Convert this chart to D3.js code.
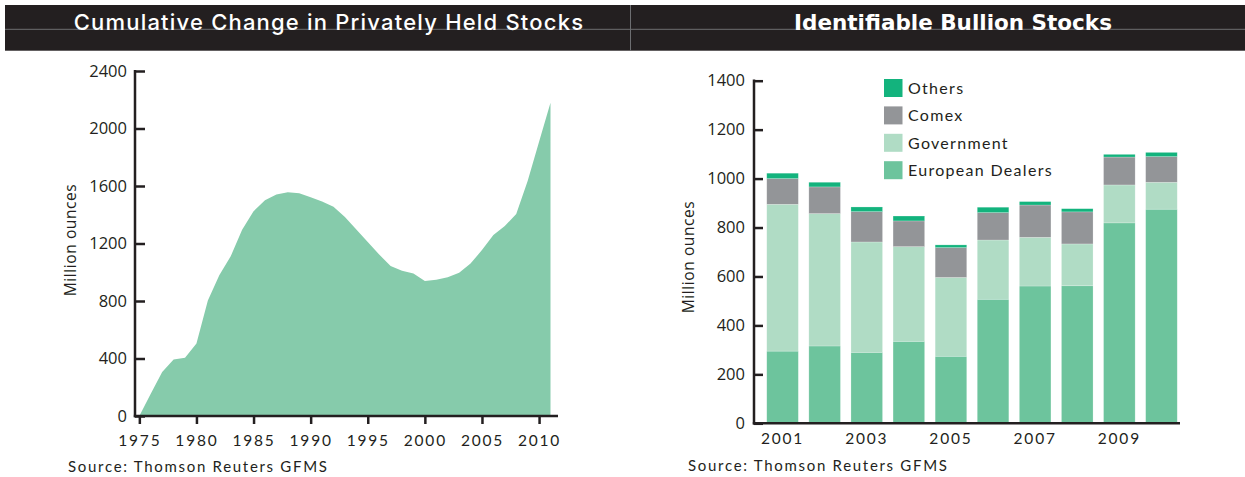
<!DOCTYPE html>
<html>
<head>
<meta charset="utf-8">
<script src="https://cdn.jsdelivr.net/npm/d3@7"></script>
<style>
  body { margin: 0; background: #fff; }
  svg { display: block; }
  .tick text { fill: #231f20; }
</style>
</head>
<body>
<script>
// left chart: cumulative change in privately held stocks (Moz)
var years = d3.range(1975, 2012);
var privateStocks = [0, 154, 306, 393, 406, 505, 804, 980, 1111, 1296,
  1424, 1501, 1541, 1556, 1550, 1521, 1493, 1456, 1385, 1298,
  1211, 1124, 1044, 1011, 992, 940, 948, 966, 997, 1061,
  1154, 1259, 1322, 1405, 1634, 1908, 2179];
var leftYTicks = [0, 400, 800, 1200, 1600, 2000, 2400];
var leftXTicks = [1975, 1980, 1985, 1990, 1995, 2000, 2005, 2010];

// right chart: identifiable bullion stocks (Moz)
var barYears = ["2001", "2002", "2003", "2004", "2005", "2006", "2007", "2008", "2009", "2010"];
var european = [295, 316, 290, 335, 274, 507, 561, 562, 819, 875];
var government = [600, 541, 451, 387, 322, 242, 199, 171, 155, 110];
var comex = [105, 109, 124, 105, 122, 112, 132, 131, 114, 105];
var others = [22, 19, 19, 20, 11, 22, 14, 13, 11, 17];
var seriesNames = ["European Dealers", "Government", "Comex", "Others"];
var seriesColors = ["#6dc49d", "#b0dcc5", "#939598", "#13b37d"];
var rightYTicks = [0, 200, 400, 600, 800, 1000, 1200, 1400];
var rightXTicks = ["2001", "2003", "2005", "2007", "2009"];

var ink = "#231f20";
var W = 1245, H = 477;

var svg = d3.select("body").append("svg")
    .attr("width", W)
    .attr("height", H);

// header band
svg.append("rect")
    .attr("x", 5).attr("y", 5)
    .attr("width", W - 5).attr("height", 45.7)
    .attr("fill", ink);
svg.append("line")
    .attr("x1", 5).attr("x2", W)
    .attr("y1", 29.3).attr("y2", 29.3)
    .attr("stroke", "#6d6e71").attr("stroke-width", 1);
svg.append("line")
    .attr("x1", 630.5).attr("x2", 630.5)
    .attr("y1", 5).attr("y2", 50.7)
    .attr("stroke", "#6d6e71").attr("stroke-width", 1);

svg.append("text")
    .attr("x", 329).attr("y", 30)
    .attr("text-anchor", "middle")
    .style("font-family", "Inter, 'Open Sans', sans-serif")
    .style("font-weight", 500)
    .style("font-size", "22px")
    .style("letter-spacing", "1.2px")
    .attr("fill", "#fff")
    .text("Cumulative Change in Privately Held Stocks");

svg.append("text")
    .attr("x", 953).attr("y", 30)
    .attr("text-anchor", "middle")
    .style("font-family", "'DejaVu Sans', Verdana, sans-serif")
    .style("font-weight", "bold")
    .style("font-size", "21.5px")
    .attr("fill", "#fff")
    .text("Identifiable Bullion Stocks");

function styleAxis(g, size) {
  g.select(".domain").remove();
  g.selectAll(".tick line").attr("stroke", ink).attr("stroke-width", 2.5);
  g.selectAll(".tick text")
      .style("font-family", "'Open Sans', 'Noto Sans', sans-serif")
      .style("font-size", size);
}

// ---------- left area chart ----------
var x1 = d3.scaleLinear()
    .domain([1974.62, 2011.57])
    .range([135, 557]);
var y1 = d3.scaleLinear()
    .domain([0, 2400])
    .range([416, 71]);

var area = d3.area()
    .x(function(d, i) { return x1(years[i]); })
    .y0(y1(0))
    .y1(function(d) { return y1(d); });

svg.append("path")
    .datum(privateStocks)
    .attr("fill", "#86cbab")
    .attr("d", area);

var gy1 = svg.append("g")
    .attr("transform", "translate(135,0)")
    .call(d3.axisRight(y1).tickValues(leftYTicks).tickSize(10).tickFormat(d3.format("d")));
styleAxis(gy1, "16.5px");
gy1.selectAll(".tick text").attr("text-anchor", "end").attr("x", -8);

var gx1 = svg.append("g")
    .attr("transform", "translate(0,416)")
    .call(d3.axisBottom(x1).tickValues(leftXTicks).tickSize(8).tickPadding(11).tickFormat(d3.format("d")));
styleAxis(gx1, "15.5px");
gx1.selectAll(".tick text")
    .style("font-family", "Lato, sans-serif")
    .style("letter-spacing", "1.8px");

svg.append("line")
    .attr("x1", 135).attr("x2", 135).attr("y1", 70).attr("y2", 417.2)
    .attr("stroke", ink).attr("stroke-width", 2.5);
svg.append("line")
    .attr("x1", 133.8).attr("x2", 558).attr("y1", 416).attr("y2", 416)
    .attr("stroke", ink).attr("stroke-width", 2.5);

svg.append("text")
    .attr("transform", "translate(76,240) rotate(-90)")
    .attr("text-anchor", "middle")
    .style("font-family", "'Open Sans', sans-serif")
    .style("font-size", "15.5px")
    .style("letter-spacing", "0.6px")
    .attr("fill", ink)
    .text("Million ounces");

svg.append("text")
    .attr("x", 68).attr("y", 472)
    .style("font-family", "Lato, sans-serif")
    .style("font-size", "15px")
    .style("letter-spacing", "1.7px")
    .attr("fill", ink)
    .text("Source: Thomson Reuters GFMS");

// ---------- right stacked bar chart ----------
var x2 = d3.scaleBand()
    .domain(barYears)
    .range([761.5, 1182.5])
    .paddingInner(0.25)
    .paddingOuter(0.125);
var y2 = d3.scaleLinear()
    .domain([0, 1400])
    .range([423.3, 80.7]);

var rows = barYears.map(function(yr, i) {
  return {
    year: yr,
    "European Dealers": european[i],
    "Government": government[i],
    "Comex": comex[i],
    "Others": others[i]
  };
});
var stacked = d3.stack().keys(seriesNames)(rows);

svg.append("g").selectAll("g")
    .data(stacked)
  .join("g")
    .attr("fill", function(d, i) { return seriesColors[i]; })
  .selectAll("rect")
    .data(function(d) { return d; })
  .join("rect")
    .attr("x", function(d) { return x2(d.data.year); })
    .attr("width", x2.bandwidth())
    .attr("y", function(d) { return y2(d[1]); })
    .attr("height", function(d) { return y2(d[0]) - y2(d[1]); })
    .attr("stroke", "#fff")
    .attr("stroke-opacity", 0.35)
    .attr("stroke-width", 0.6);

var gy2 = svg.append("g")
    .attr("transform", "translate(754,0)")
    .call(d3.axisRight(y2).tickValues(rightYTicks).tickSize(9).tickFormat(d3.format("d")));
styleAxis(gy2, "16.5px");
gy2.selectAll(".tick text").attr("text-anchor", "end").attr("x", -9);

var gx2 = svg.append("g")
    .attr("transform", "translate(0,423.3)")
    .call(d3.axisBottom(x2).tickValues(rightXTicks).tickSize(0).tickPadding(10));
styleAxis(gx2, "15.5px");
gx2.selectAll(".tick text")
    .style("font-family", "Lato, sans-serif")
    .style("letter-spacing", "1.8px");

svg.append("line")
    .attr("x1", 754).attr("x2", 754).attr("y1", 79.5).attr("y2", 424.5)
    .attr("stroke", ink).attr("stroke-width", 2.5);
svg.append("line")
    .attr("x1", 752.8).attr("x2", 1180).attr("y1", 423.3).attr("y2", 423.3)
    .attr("stroke", ink).attr("stroke-width", 2.5);

svg.append("text")
    .attr("transform", "translate(694,257) rotate(-90)")
    .attr("text-anchor", "middle")
    .style("font-family", "'Open Sans', sans-serif")
    .style("font-size", "15.5px")
    .style("letter-spacing", "0.6px")
    .attr("fill", ink)
    .text("Million ounces");

svg.append("text")
    .attr("x", 688).attr("y", 471)
    .style("font-family", "Lato, sans-serif")
    .style("font-size", "15px")
    .style("letter-spacing", "1.7px")
    .attr("fill", ink)
    .text("Source: Thomson Reuters GFMS");

// legend, top item is Others
var legendOrder = seriesNames.slice().reverse();
var legend = svg.append("g")
    .attr("transform", "translate(884,79)")
  .selectAll("g")
    .data(legendOrder)
  .join("g")
    .attr("transform", function(d, i) { return "translate(0," + (i * 27.4) + ")"; });
legend.append("rect")
    .attr("width", 18.5).attr("height", 18)
    .attr("fill", function(d) { return seriesColors[seriesNames.indexOf(d)]; });
legend.append("text")
    .attr("x", 24).attr("y", 15)
    .style("font-family", "Lato, sans-serif")
    .style("font-size", "16px")
    .style("letter-spacing", "1.3px")
    .attr("fill", ink)
    .text(function(d) { return d; });
</script>
</body>
</html>
